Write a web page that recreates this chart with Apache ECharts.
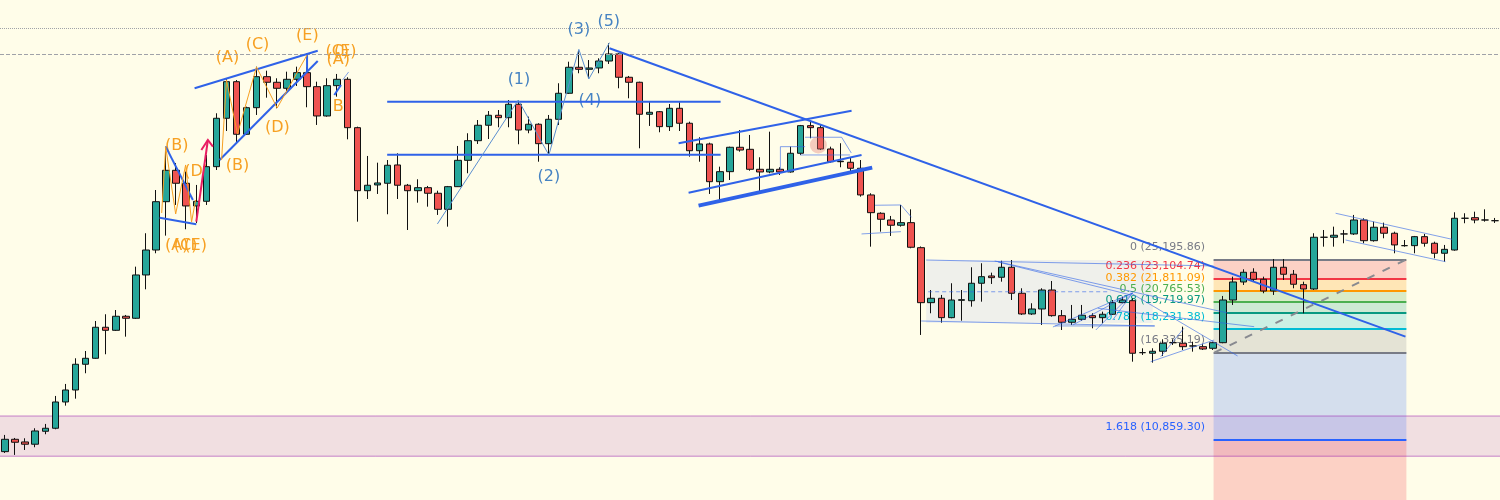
<!DOCTYPE html>
<html>
<head>
<meta charset="utf-8">
<script src="https://cdn.jsdelivr.net/npm/echarts@6/dist/echarts.min.js"></script>
<style>
  html, body { margin: 0; padding: 0; background: #fffde9; }
  #chart { width: 1500px; height: 500px; }
</style>
</head>
<body>
<div id="chart"></div>
<script>
const opens = [10286,10898,10763,10649,11314,11475,12975,13722,15477,15915,18399,18139,19370,19188,23496,26402,33095,38325,36072,32440,
  33156,38983,48877,57996,45359,51359,59374,57836,56233,58646,60493,56660,49406,56927,58646,46777,34839,35788,36072,39294,
  35738,34839,35336,34424,31937,35503,40156,44013,47309,49568,49014,52185,46268,47531,43407,48645,54938,62037,61453,61833,
  63880,66017,59206,57836,49800,50404,47000,51214,47752,42001,43347,36340,38080,42681,42277,38506,38027,38506,38027,41501,
  47221,46777,42338,39899,39789,38690,34153,31351,30380,29644,30005,26693,20641,21069,19245,20870,20829,22601,23386,23244,
  24356,21569,19580,20039,21899,19424,18833,19097,19424,19242,19552,20641,20832,16340,16294,16445,17120,17073,16859,16804,
  16677,17120,20899,22737,23793,23024,21799,24356,23573,22454,22004,28025,28025,28462,28462,30380,27578,29367,28555,26947,
  26947,28105,27250,26004,26402,30627,30714,30380,30283];
const closes = [10898,10748,10649,11330,11475,12975,13722,15477,15915,18399,18139,19370,19188,23496,26402,33095,38325,36072,32440,33156,
  38983,48877,57996,45359,51359,59374,57836,56233,58646,60493,56660,49406,56927,58646,46777,34839,35738,36122,39239,35738,
  34839,35336,34424,31937,35503,40156,44013,47309,49568,49014,52185,46268,47531,43407,48645,54938,62037,61453,61833,63880,
  66017,59206,57836,49800,50264,47000,51214,47752,42001,43347,36340,38080,42681,42136,38506,38027,38506,38027,41501,47221,
  46777,42338,39899,39991,38690,34153,31438,30482,29644,30005,26743,20641,21069,19245,20899,20929,22601,23309,23200,24356,
  21569,19580,20039,21899,19424,18833,19097,19461,19242,19552,20641,20899,16294,16340,16445,17073,17120,16804,16859,16622,
  17120,20899,22737,23793,23024,21799,24356,23573,22496,22004,28025,28025,28290,28462,30380,27578,29367,28555,27035,26947,
  28105,27250,26004,26486,30627,30627,30380,30380,30283];
const lows = [10224,10130,10366,10500,11158,11420,12754,13177,14839,15880,16218,18081,17608,19124,21972,26004,28237,32592,29089,29964,
  32592,38378,46057,43488,45211,49638,53816,51214,55090,56847,51456,47376,49244,54071,44302,30144,33514,34312,31206,33514,
  28992,32942,32333,31105,29450,35450,37799,43347,44365,46866,46866,43286,45570,39899,41308,47376,54759,60325,58926,60325,
  63004,56233,53663,42479,47154,45782,46057,46057,40846,39899,34312,33354,36624,41809,38255,34520,37799,37501,37905,41174,
  44513,42136,39716,38873,37676,33880,26819,28767,28197,29450,26617,17749,19643,18798,19188,18972,20259,20737,22528,22769,
  20899,19488,19488,18598,19333,18164,18598,18972,18312,18746,19488,20584,15665,16165,15593,16090,16938,16543,16415,16543,
  16543,17073,20421,22423,22769,21569,21399,22947,22077,19643,21899,26819,26819,27250,28329,27250,27452,27892,26004,26819,
  26004,26819,25401,25000,26318,29922,29922,30144,29964];
const highs = [11122,10966,10950,11475,11709,13346,14116,15915,16467,18946,19552,19944,19488,24425,28555,34951,42802,39661,38080,35788,
  41174,50032,58646,58450,51602,62213,61053,58926,60773,62213,62125,57996,58926,60129,59206,47000,40981,39716,40211,41501,
  35955,36747,35620,34839,35620,42943,45570,48483,50566,50798,53230,53230,49246,47752,49638,57569,63676,67245,64172,64694,
  69402,66232,59570,57996,52817,50566,52258,52671,48107,44725,43609,38983,42802,46268,45211,40731,45909,38873,42802,47376,
  48328,47376,42802,43488,40731,40211,34424,31496,30960,32592,31937,26845,21899,21399,22601,21899,24356,24816,23749,25115,
  25196,22077,20584,22077,22842,19944,20421,20421,19643,19789,20899,21229,21069,16677,16677,17392,17392,18451,17200,16993,
  17200,21299,23309,24126,24241,23309,25317,25317,24045,22769,28555,28992,29450,28992,31105,30627,30144,30005,28767,27667,
  28197,28462,27452,27035,31496,31351,31583,31937,30670];
const weeks = opens.map((_, i) => 'W' + (i + 1));

// horizontal reference prices
const dottedLevel = 74500;
const dashedLevel = 66017;
const supportZone = [12150, 10070];

// fibonacci retracement: ratio, price
const fibLevels = [[0, 25195.86], [0.236, 23104.74], [0.382, 21811.09], [0.5, 20765.53], [0.618, 19719.97],
  [0.786, 18231.38], [1, 16335.19], [1.618, 10859.30], [2.618, 1998.60]];
const fibSpan = [120.05, 139.2];
const fibLabelAt = 119.2;
const fibDiagonal = [[120.12, 16335.19], [139.11, 25195.86]];

// drawings, as [candle index, price]
const trendLines = [
  [[60.04, 67792], [139.11, 17608]],
  [[18.83, 56233], [31.06, 67030]],
  [[21.31, 40211], [31.06, 63880]],
  [[15.96, 42802], [18.66, 33354]],
  [[15.36, 30714], [19.0, 29790]],
  [[37.96, 52817], [71.08, 52817]],
  [[37.96, 41231], [71.08, 41231]],
  [[66.91, 43488], [84.09, 50636]],
  [[67.9, 34520], [85.08, 41174]],
  [[30.0, 66232], [30.0, 60773]],
  [[32.71, 54505], [33.37, 57115]]
];
const heavyLines = [[[68.89, 32486], [86.14, 38800]]];
const thinLines = [
  [[77.02, 38378], [77.02, 42802], [79.47, 42802]],
  [[79.47, 44725], [83.1, 44725], [84.06, 41559]],
  [[78.98, 41174], [83.93, 41174]],
  [[86.41, 32547], [88.99, 32592], [90.04, 30771]],
  [[85.08, 28462], [88.99, 28767]],
  [[91.5, 25196], [120.05, 24505]],
  [[91.0, 18946], [114.2, 18512]],
  [[98.31, 25081], [121.44, 19670]],
  [[98.64, 24966], [111.82, 21399]],
  [[111.82, 21600], [122.43, 16090]],
  [[104.09, 18425], [112.0, 21600]],
  [[106.07, 18598], [112.0, 21600]],
  [[108.35, 18164], [112.0, 21600]],
  [[110.03, 19033], [112.0, 21600]],
  [[104.29, 18512], [114.2, 18512]],
  [[113.8, 15665], [120.1, 17334]],
  [[114.8, 16037], [117.1, 18312]],
  [[108.55, 20105], [124.08, 18451]],
  [[132.17, 31351], [143.74, 27758]],
  [[133.16, 27667], [143.08, 25000]],
  [[33.53, 58450], [34.13, 60689]]
];
const dashedThin = [[[91.7, 21721], [109.8, 21721]]];
const rangeBox = [91.5, 25196, 114, 18772];
const waveLine = [[42.95, 29825], [50.98, 53230], [54.02, 41174], [57.0, 67460], [57.99, 58730], [60.04, 69596]];
const zigzags = [
  [[15.56, 31394], [15.96, 42742], [16.95, 31250], [17.94, 39294], [18.53, 30102], [18.93, 33354]],
  [[21.51, 40211], [22.0, 58450], [23.09, 45423], [24.98, 62125], [27.03, 51283], [30.0, 65710]]
];
const arrow = [
  [[19.0, 30144], [20.15, 44154]],
  [[19.5, 42136], [20.15, 44154], [20.65, 42802]]
];
const blob = [[80.79, 43145]];

const patternLabels = [
  ['(A)', 22.1, 64790], ['(C)', 25.08, 68855], ['(E)', 30.03, 71753], ['(B)', 23.09, 39111], ['(D)', 27.06, 46711],
  ['(B)', 17.05, 42943], ['(D)', 19.03, 38080], ['(A)', 17.05, 26908], ['(C)', 17.94, 26908], ['(E)', 18.93, 26908],
  ['(C)', 33.0, 66631], ['(E)', 33.8, 66631], ['(A)', 33.1, 64172], ['B', 33.1, 51529]
];
const waveLabels = [
  ['(1)', 51.05, 58450], ['(2)', 54.02, 37150], ['(3)', 57.0, 73838], ['(4)', 58.09, 52987], ['(5)', 59.97, 76696]
];

const fibColors = ['#787b86', '#f23645', '#ff9800', '#4caf50', '#089981', '#00bcd4', '#787b86', '#2962ff', '#f23645'];
const fibFills = ['', 'rgba(242,54,69,0.22)', 'rgba(255,152,0,0.22)', 'rgba(76,175,80,0.22)', 'rgba(8,153,129,0.2)',
  'rgba(0,188,212,0.2)', 'rgba(120,123,134,0.2)', 'rgba(41,98,255,0.2)', 'rgba(242,54,69,0.22)'];
const FONT = '"DejaVu Sans", Verdana, sans-serif';

const fmt = v => {
  const [a, b] = v.toFixed(2).split('.');
  return a.replace(/\B(?=(\d{3})+(?!\d))/g, ',') + '.' + b;
};

const rects = [];
const rectColors = [];
rects.push([-0.5, supportZone[0], 149, supportZone[1]]);
rectColors.push('rgba(156,39,176,0.14)');
rects.push(rangeBox);
rectColors.push('rgba(180,195,240,0.22)');
for (let k = 1; k < fibLevels.length; k++) {
  rects.push([fibSpan[0], fibLevels[k - 1][1], fibSpan[1], fibLevels[k][1]]);
  rectColors.push(fibFills[k]);
}

function lineSeries(paths, style, z) {
  return {
    type: 'lines', coordinateSystem: 'cartesian2d', xAxisIndex: 1, yAxisIndex: 0,
    polyline: true, silent: true, z: z || 5, lineStyle: Object.assign({ opacity: 1 }, style),
    data: paths.map(c => ({ coords: c }))
  };
}

function textSeries(list, color, size, z) {
  return {
    type: 'custom', xAxisIndex: 1, yAxisIndex: 0, silent: true, z: z || 3,
    data: list.map(d => [d[1], d[2]]),
    renderItem: (params, api) => {
      const pt = api.coord([api.value(0), api.value(1)]);
      return {
        type: 'text', x: pt[0], y: pt[1],
        style: { text: list[params.dataIndex][0], fill: color, font: size + 'px ' + FONT, align: 'center', verticalAlign: 'middle' }
      };
    }
  };
}

const chart = echarts.init(document.getElementById('chart'));
chart.setOption({
  animation: false,
  backgroundColor: '#fffde9',
  grid: { left: 0, top: 0, bottom: 0, width: 1503 },
  xAxis: [
    { type: 'category', data: weeks, show: false, boundaryGap: true },
    { type: 'value', min: -0.5, max: 148.5, show: false }
  ],
  yAxis: { type: 'log', logBase: 10, min: 8205, max: 84966, show: false, splitLine: { show: false } },
  series: [
    {
      type: 'custom', xAxisIndex: 1, yAxisIndex: 0, silent: true, z: 1,
      data: rects,
      renderItem: (params, api) => {
        const a = api.coord([api.value(0), api.value(1)]);
        const b = api.coord([api.value(2), api.value(3)]);
        return {
          type: 'rect',
          shape: { x: a[0], y: a[1], width: b[0] - a[0], height: b[1] - a[1] },
          style: { fill: rectColors[params.dataIndex] }
        };
      }
    },
    lineSeries([[[-0.5, supportZone[0]], [149, supportZone[0]]], [[-0.5, supportZone[1]], [149, supportZone[1]]]],
      { color: 'rgba(156,39,176,0.55)', width: 1 }, 2),
    {
      type: 'lines', coordinateSystem: 'cartesian2d', xAxisIndex: 1, yAxisIndex: 0, silent: true, z: 2,
      data: fibLevels.map((lv, k) => ({
        coords: [[fibSpan[0], lv[1]], [fibSpan[1], lv[1]]],
        lineStyle: { color: fibColors[k], width: 2, opacity: 1 }
      }))
    },
    lineSeries([fibDiagonal], { color: '#888a90', width: 2, type: [8, 9] }, 2),
    {
      type: 'custom', xAxisIndex: 1, yAxisIndex: 0, silent: true, z: 3,
      data: fibLevels.map(lv => [fibLabelAt, lv[1]]),
      renderItem: (params, api) => {
        const lv = fibLevels[params.dataIndex];
        const pt = api.coord([api.value(0), api.value(1)]);
        return {
          type: 'text', x: pt[0], y: pt[1] - 12.5,
          style: { text: lv[0] + ' (' + fmt(lv[1]) + ')', fill: fibColors[params.dataIndex], font: '11px ' + FONT, align: 'right', verticalAlign: 'middle' }
        };
      }
    },
    textSeries(patternLabels, '#f7a022', 16),
    textSeries(waveLabels, '#4683c2', 16),
    {
      type: 'candlestick', z: 4,
      data: opens.map((o, i) => [o, closes[i], lows[i], highs[i]]),
      barWidth: 7,
      itemStyle: {
        color: '#26a69a', color0: '#ef5350',
        borderColor: '#111', borderColor0: '#111', borderColorDoji: '#111', borderWidth: 1
      },
      markLine: {
        silent: true, symbol: 'none', label: { show: false },
        data: [
          { yAxis: dottedLevel, lineStyle: { color: '#a0a2a8', type: 'dotted', width: 1 } },
          { yAxis: dashedLevel, lineStyle: { color: '#a0a2a8', type: 'dashed', width: 1 } }
        ]
      }
    },
    {
      type: 'scatter', xAxisIndex: 1, yAxisIndex: 0, silent: true, z: 5, symbolSize: 17,
      itemStyle: { color: 'rgba(226,120,110,0.45)' }, data: blob
    },
    lineSeries(trendLines, { color: '#2f62e8', width: 2 }),
    lineSeries(heavyLines, { color: '#2f62e8', width: 4 }),
    lineSeries(thinLines, { color: 'rgba(47,98,232,0.6)', width: 1 }),
    lineSeries(dashedThin, { color: 'rgba(47,98,232,0.6)', width: 1, type: [4, 3] }),
    lineSeries([waveLine], { color: '#5b8fd0', width: 1 }),
    lineSeries(zigzags, { color: '#f7a022', width: 1 }),
    lineSeries(arrow, { color: '#e91e63', width: 2 })
  ]
});
</script>
</body>
</html>
